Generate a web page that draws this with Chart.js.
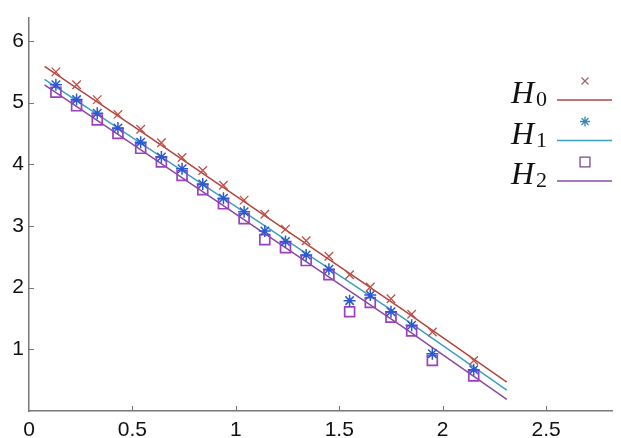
<!DOCTYPE html>
<html>
<head>
<meta charset="utf-8">
<script src="https://cdn.jsdelivr.net/npm/chart.js@4/dist/chart.umd.min.js"></script>
<style>
  html, body { margin: 0; padding: 0; background: #fff; }
  #wrap { position: relative; width: 621px; height: 438px; }
</style>
</head>
<body>
<div id="wrap"><canvas id="fitChart"></canvas></div>
<script>
// Sample positions (x) and measured values for each hypothesis
const xs = [0.13, 0.23, 0.33, 0.43, 0.54, 0.64, 0.74, 0.84, 0.94, 1.04,
            1.14, 1.24, 1.34, 1.45, 1.55, 1.65, 1.75, 1.85, 1.95, 2.15];
const h0 = [5.50, 5.29, 5.05, 4.81, 4.57, 4.35, 4.11, 3.90, 3.66, 3.42,
            3.19, 2.95, 2.76, 2.51, 2.21, 2.01, 1.82, 1.57, 1.28, 0.82];
const h1 = [5.29, 5.05, 4.83, 4.59, 4.36, 4.12, 3.93, 3.68, 3.45, 3.23,
            2.92, 2.75, 2.53, 2.30, 1.79, 1.88, 1.61, 1.39, 0.93, 0.67];
const h2 = [5.17, 4.95, 4.72, 4.50, 4.26, 4.04, 3.82, 3.59, 3.36, 3.12,
            2.78, 2.65, 2.44, 2.21, 1.61, 1.76, 1.52, 1.30, 0.82, 0.57];

// Fitted curves
const fitX  = [0.075, 0.6, 1.2, 1.8, 2.31];
const fitH0 = [5.59, 4.40, 3.03, 1.66, 0.47];
const fitH1 = [5.38, 4.21, 2.87, 1.53, 0.34];
const fitH2 = [5.29, 4.10, 2.74, 1.38, 0.19];

const seriesNames = ['H', 'H', 'H'];
const seriesSubs = ['0', '1', '2'];
const lineColors = ['#b0473f', '#3f9fc0', '#8a4a9e'];
const markColors = ['#c0504a', '#2a5ad0', '#9a40c0'];
const legendMarkColors = ['#a06a6a', '#3a8ab0', '#7a4a8a'];

const xTicks = [0, 0.5, 1, 1.5, 2, 2.5];
const yTicks = [1, 2, 3, 4, 5, 6];

const pts = (x, y) => x.map((v, i) => ({ x: v, y: y[i] }));

// inside tick marks on both axes
const innerTicks = {
  id: 'innerTicks',
  afterDraw(chart) {
    const { ctx, scales: { x, y } } = chart;
    ctx.save();
    ctx.strokeStyle = '#777';
    ctx.lineWidth = 1;
    xTicks.forEach(v => {
      if (v === 0) return;
      const px = Math.round(x.getPixelForValue(v)) + 0.5;
      ctx.beginPath();
      ctx.moveTo(px, y.bottom);
      ctx.lineTo(px, y.bottom - 5);
      ctx.stroke();
    });
    yTicks.forEach(v => {
      const py = Math.round(y.getPixelForValue(v)) + 0.5;
      ctx.beginPath();
      ctx.moveTo(x.left, py);
      ctx.lineTo(x.left + 5, py);
      ctx.stroke();
    });
    ctx.restore();
  }
};

// legend: label, then marker above a line sample
const sideLegend = {
  id: 'sideLegend',
  afterDraw(chart) {
    const ctx = chart.ctx;
    const styles = ['crossRot', 'star', 'rect'];
    const radii = [5, 5, 7];
    ctx.save();
    for (let i = 0; i < 3; i++) {
      const base = 103 + i * 40.5;
      ctx.fillStyle = '#111';
      ctx.textBaseline = 'alphabetic';
      ctx.textAlign = 'left';
      ctx.font = 'italic 32px "Liberation Serif", "DejaVu Serif", serif';
      ctx.fillText(seriesNames[i], 511, base);
      ctx.font = '22px "Liberation Serif", "DejaVu Serif", serif';
      ctx.fillText(seriesSubs[i], 536, base + 3);

      ctx.strokeStyle = lineColors[i];
      ctx.lineWidth = 1.6;
      ctx.beginPath();
      ctx.moveTo(557, base - 3);
      ctx.lineTo(612, base - 3);
      ctx.stroke();

      ctx.strokeStyle = legendMarkColors[i];
      ctx.fillStyle = 'rgba(0,0,0,0)';
      ctx.lineWidth = 1.3;
      Chart.helpers.drawPoint(ctx, { pointStyle: styles[i], radius: radii[i], rotation: 0, borderWidth: 1.3 },
        585, base - 22);
    }
    ctx.restore();
  }
};

new Chart(document.getElementById('fitChart'), {
  type: 'scatter',
  data: {
    datasets: [
      { data: pts(xs, h2), pointStyle: 'rect', pointRadius: 7, borderColor: markColors[2], backgroundColor: 'rgba(0,0,0,0)', borderWidth: 1.7, showLine: false, order: 3 },
      { data: pts(xs, h1), pointStyle: 'star', pointRadius: 6, borderColor: markColors[1], backgroundColor: markColors[1], borderWidth: 1.5, showLine: false, order: 2 },
      { data: pts(xs, h0), pointStyle: 'crossRot', pointRadius: 6, borderColor: markColors[0], backgroundColor: markColors[0], borderWidth: 1.3, showLine: false, order: 1 },
      { data: pts(fitX, fitH0), showLine: true, pointRadius: 0, borderColor: lineColors[0], borderWidth: 1.5, order: 4 },
      { data: pts(fitX, fitH1), showLine: true, pointRadius: 0, borderColor: lineColors[1], borderWidth: 1.5, order: 5 },
      { data: pts(fitX, fitH2), showLine: true, pointRadius: 0, borderColor: lineColors[2], borderWidth: 1.5, order: 6 }
    ]
  },
  options: {
    responsive: true,
    maintainAspectRatio: false,
    devicePixelRatio: 1,
    animation: false,
    layout: { padding: { top: 13, right: 0, left: 0, bottom: 0 } },
    plugins: { legend: { display: false }, tooltip: { enabled: false } },
    scales: {
      x: {
        type: 'linear', min: 0, max: 2.82,
        afterBuildTicks: s => { s.ticks = xTicks.map(v => ({ value: v })); },
        afterFit: s => { s.height = 27; },
        grid: { display: false, drawTicks: false },
        border: { display: true, color: '#777', width: 1.5 },
        ticks: {
          padding: 7, color: '#111', maxRotation: 0, autoSkip: false,
          font: { family: 'Arial, "Liberation Sans", sans-serif', size: 21 },
          callback: v => String(v)
        }
      },
      y: {
        type: 'linear', min: 0, max: 6.38,
        afterBuildTicks: s => { s.ticks = yTicks.map(v => ({ value: v })); },
        afterFit: s => { s.width = 29; },
        grid: { display: false, drawTicks: false },
        border: { display: true, color: '#777', width: 1.5 },
        ticks: {
          padding: 5, color: '#111', autoSkip: false,
          font: { family: 'Arial, "Liberation Sans", sans-serif', size: 21 },
          callback: v => String(v)
        }
      }
    }
  },
  plugins: [innerTicks, sideLegend]
});
</script>
</body>
</html>
